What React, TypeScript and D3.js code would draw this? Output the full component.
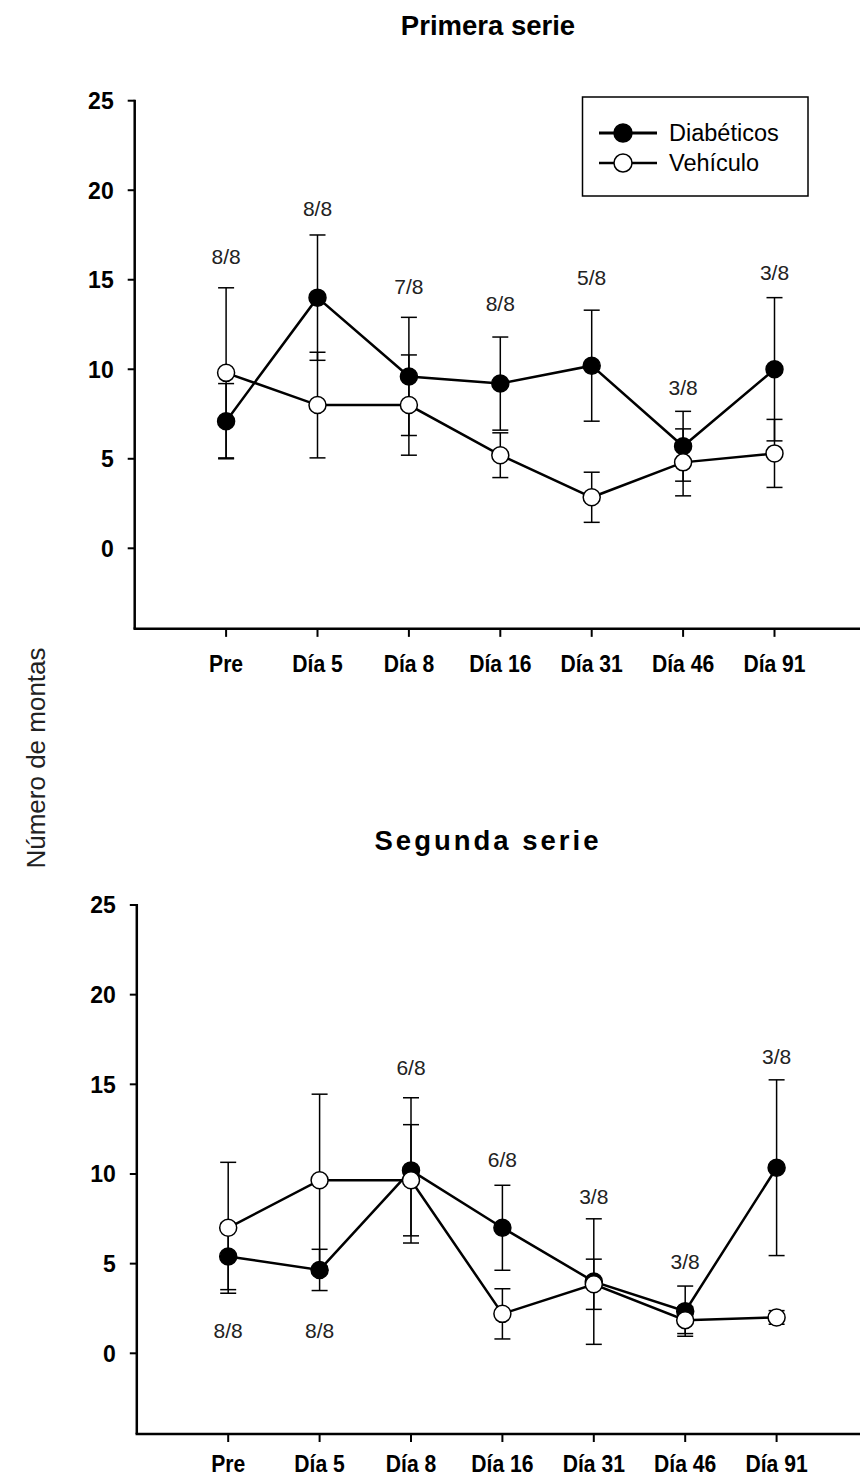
import React from "react";
import * as d3 from "d3";

// Sampling days shown on the x axis
const days = ["Pre", "Día 5", "Día 8", "Día 16", "Día 31", "Día 46", "Día 91"];
const yTicks = [0, 5, 10, 15, 20, 25];

// Primera serie: mean number of mounts and standard error
const s1Diabeticos = [7.1, 14.0, 9.6, 9.2, 10.2, 5.7, 10.0];
const s1DiabeticosErr = [2.1, 3.5, 3.3, 2.6, 3.1, 1.95, 4.0];
const s1Vehiculo = [9.8, 8.0, 8.0, 5.2, 2.85, 4.8, 5.3];
const s1VehiculoErr = [4.75, 2.95, 2.8, 1.25, 1.4, 1.87, 1.9];
// Responders per group, with the height at which each count is written
const s1Counts = ["8/8", "8/8", "7/8", "8/8", "5/8", "3/8", "3/8"];
const s1CountY = [16.3, 19.0, 14.6, 13.7, 15.15, 9.0, 15.4];

// Segunda serie
const s2Diabeticos = [5.4, 4.65, 10.2, 7.0, 4.0, 2.35, 10.35];
const s2DiabeticosErr = [1.85, 1.15, 4.05, 2.37, 3.5, 1.4, 4.9];
const s2Vehiculo = [7.0, 9.65, 9.65, 2.2, 3.85, 1.85, 2.0];
const s2VehiculoErr = [3.65, 4.8, 3.1, 1.4, 1.4, 0.75, 0.38];
const s2Counts = ["8/8", "8/8", "6/8", "6/8", "3/8", "3/8", "3/8"];
const s2CountY = [1.3, 1.3, 15.95, 10.8, 8.75, 5.1, 16.55];

const FONT = "'Liberation Sans', Arial, Helvetica, sans-serif";

type PanelProps = {
  title: string;
  titleY: number;
  titleSpacing: number;
  top: number; // pixel position of y = 25
  bottom: number; // pixel position of y = 0
  left: number; // pixel position of x = 0
  labelOffset: number; // baseline of the day labels below the x axis
  diab: number[];
  diabErr: number[];
  veh: number[];
  vehErr: number[];
  counts: string[];
  countY: number[];
  legend?: boolean;
};

function Series({
  values,
  errs,
  x,
  y,
  filled,
}: {
  values: number[];
  errs: number[];
  x: d3.ScaleLinear<number, number>;
  y: d3.ScaleLinear<number, number>;
  filled: boolean;
}) {
  const line = d3
    .line<number>()
    .x((_, i) => x(i + 1))
    .y((d) => y(d));
  const cap = 8;
  return (
    <g>
      {values.map((v, i) => {
        const cx = x(i + 1);
        const hi = y(v + errs[i]);
        const lo = y(v - errs[i]);
        return (
          <g key={i} stroke="#000" strokeWidth={1.5}>
            <line x1={cx} x2={cx} y1={hi} y2={lo} />
            <line x1={cx - cap} x2={cx + cap} y1={hi} y2={hi} />
            <line x1={cx - cap} x2={cx + cap} y1={lo} y2={lo} />
          </g>
        );
      })}
      <path d={line(values) ?? ""} fill="none" stroke="#000" strokeWidth={2.5} />
      {values.map((v, i) => (
        <circle
          key={i}
          cx={x(i + 1)}
          cy={y(v)}
          r={8.5}
          fill={filled ? "#000" : "#fff"}
          stroke="#000"
          strokeWidth={1.5}
        />
      ))}
    </g>
  );
}

function Panel(p: PanelProps) {
  const x = d3.scaleLinear().domain([0, 8]).range([p.left, p.left + 8 * 91.4]);
  const y = d3.scaleLinear().domain([0, 25]).range([p.bottom, p.top]);
  const yMin = -4.5;
  const axisY = y(yMin);
  return (
    <g fontFamily={FONT}>
      <text
        x={488}
        y={p.titleY}
        textAnchor="middle"
        fontWeight="bold"
        fontSize={27.5}
        letterSpacing={p.titleSpacing}
      >
        {p.title}
      </text>
      {/* y axis */}
      <line x1={p.left} x2={p.left} y1={y(25) - 1} y2={axisY} stroke="#000" strokeWidth={2.5} />
      {yTicks.map((t) => (
        <g key={t}>
          <line x1={p.left - 7} x2={p.left} y1={y(t)} y2={y(t)} stroke="#000" strokeWidth={2} />
          <text
            x={p.left - 21}
            y={y(t)}
            dy="0.36em"
            textAnchor="end"
            fontWeight="bold"
            fontSize={23}
          >
            {t}
          </text>
        </g>
      ))}
      {/* x axis */}
      <line x1={p.left - 1.25} x2={870} y1={axisY} y2={axisY} stroke="#000" strokeWidth={2.5} />
      {days.map((d, i) => (
        <g key={d}>
          <line x1={x(i + 1)} x2={x(i + 1)} y1={axisY} y2={axisY + 8} stroke="#000" strokeWidth={2} />
          <text
            transform={`translate(${x(i + 1)},${axisY + p.labelOffset}) scale(0.88,1)`}
            textAnchor="middle"
            fontWeight="bold"
            fontSize={24}
          >
            {d}
          </text>
        </g>
      ))}
      <Series values={p.diab} errs={p.diabErr} x={x} y={y} filled />
      <Series values={p.veh} errs={p.vehErr} x={x} y={y} filled={false} />
      {p.counts.map((c, i) => (
        <text
          key={i}
          x={x(i + 1)}
          y={y(p.countY[i])}
          dy="0.36em"
          textAnchor="middle"
          fontSize={21}
          fill="#222"
        >
          {c}
        </text>
      ))}
      {p.legend && (
        <g>
          <rect x={582.5} y={97} width={225.5} height={99} fill="#fff" stroke="#000" strokeWidth={1.5} />
          <line x1={599} x2={657} y1={133} y2={133} stroke="#000" strokeWidth={3} />
          <circle cx={623} cy={133} r={9} fill="#000" stroke="#000" strokeWidth={1.5} />
          <text x={669} y={133} dy="0.36em" fontSize={23.5}>
            Diabéticos
          </text>
          <line x1={599} x2={657} y1={163} y2={163} stroke="#000" strokeWidth={2.5} />
          <circle cx={623} cy={163} r={9} fill="#fff" stroke="#000" strokeWidth={1.5} />
          <text x={669} y={163} dy="0.36em" fontSize={23.5}>
            Vehículo
          </text>
        </g>
      )}
    </g>
  );
}

export default function App() {
  return (
    <svg
      width={860}
      height={1479}
      viewBox="0 0 860 1479"
      style={{ position: "absolute", left: 0, top: 0, display: "block", background: "#fff" }}
    >
      <rect width={860} height={1479} fill="#fff" />
      <text
        transform="translate(45,758) rotate(-90)"
        textAnchor="middle"
        fontFamily={FONT}
        fontSize={26}
        fill="#222"
      >
        Número de montas
      </text>
      <Panel
        title="Primera serie"
        titleY={35}
        titleSpacing={0}
        top={100.7}
        bottom={548.3}
        left={134.7}
        labelOffset={43}
        diab={s1Diabeticos}
        diabErr={s1DiabeticosErr}
        veh={s1Vehiculo}
        vehErr={s1VehiculoErr}
        counts={s1Counts}
        countY={s1CountY}
        legend
      />
      <Panel
        title="Segunda serie"
        titleY={850}
        titleSpacing={3}
        top={905}
        bottom={1353.3}
        left={136.8}
        labelOffset={38}
        diab={s2Diabeticos}
        diabErr={s2DiabeticosErr}
        veh={s2Vehiculo}
        vehErr={s2VehiculoErr}
        counts={s2Counts}
        countY={s2CountY}
      />
    </svg>
  );
}
